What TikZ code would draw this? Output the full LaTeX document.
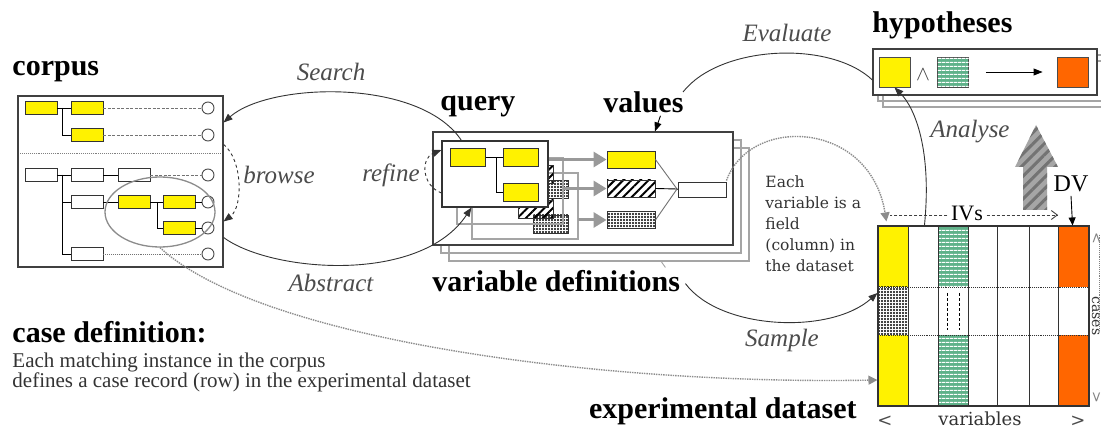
\documentclass[tikz,border=0pt]{standalone}
\usepackage{fontspec}
\setmainfont{Liberation Serif}
\newfontfamily\wideserif{DejaVu Serif}
\usetikzlibrary{arrows.meta,patterns,patterns.meta,calc,shapes.geometric}

\definecolor{dvorange}{RGB}{255,102,0}
\definecolor{ivgreen}{RGB}{96,178,138}
\definecolor{shadowgray}{RGB}{165,165,165}

\tikzset{
  title/.style={font=\fontsize{30}{30}\selectfont\bfseries, inner sep=0pt},
  act/.style={font=\fontsize{25}{25}\selectfont\itshape, text=black!70, inner sep=0pt},
  note/.style={font=\wideserif\fontsize{15.5}{21}\selectfont, text=black!80, align=left, inner sep=0pt},
  cbox/.style={draw=black!80, minimum width=32pt, minimum height=13pt, inner sep=0pt},
  ybox/.style={cbox, fill=yellow},
  wbox/.style={cbox, fill=white},
  leaf/.style={circle, draw=black!70, fill=white, minimum size=12pt, inner sep=0pt},
  leader/.style={black!55, dash pattern=on 3pt off 1.5pt},
  qcell/.style={draw=black!80, minimum width=35pt, minimum height=18pt, inner sep=0pt},
  vcell/.style={draw=black!80, minimum width=48pt, minimum height=17pt, inner sep=0pt},
  hcell/.style={draw=black!70, minimum width=31pt, minimum height=30pt, inner sep=0pt},
  hatch/.style={fill=white, pattern={Lines[angle=45,distance=6pt,line width=2pt]}, pattern color=black},
  speck/.style={fill=white, pattern={Dots[distance=3pt,radius=1.15pt]}, pattern color=black},
  stripe/.style={fill=ivgreen, postaction={pattern={Lines[angle=0,distance=4pt,line width=1.3pt]}, pattern color=white}},
  shade/.style={shadowgray, line width=1.2pt},
  arc/.style={black!80},
  tip/.style={-{Triangle[length=9pt,width=7pt]}},
  garrow/.style={black!40, line width=3pt, -{Triangle[length=13pt,width=15pt]}},
  gdots/.style={black!45, line width=1.4pt, densely dotted},
  edge/.style={font=\wideserif\fontsize{14}{14}\selectfont, rotate=-90, anchor=base, inner sep=0pt, text height=7pt, text depth=0pt},
}

\begin{document}
\begin{tikzpicture}[x=1pt,y=-1pt,line width=0.9pt]
\useasboundingbox[fill=white] (0,0) rectangle (1101,430);

% ---- corpus
\node[title, anchor=base west] (corpus) at (12,76) {corpus};
\node[draw=black!75, line width=1.1pt, minimum width=205pt, minimum height=171pt, inner sep=0pt] (cbx) at (120.5,181.5) {};
\node[ybox] (a1) at (41,108) {};
\node[ybox] (b1) at (87,108) {};
\node[ybox] (b2) at (87,135) {};
\node[wbox] (a3) at (41,175) {};
\node[wbox] (b3) at (87,175) {};
\node[wbox] (c3) at (134,175) {};
\node[wbox] (b4) at (87,202) {};
\node[ybox] (c4) at (134,202) {};
\node[ybox] (d4) at (179,202) {};
\node[ybox] (d5) at (179,228) {};
\node[wbox] (b6) at (87,254) {};
\foreach \r/\y in {1/108,2/135,3/175,4/202,5/228,6/254}
  \node[leaf] (o\r) at (208,\y) {};
\draw (a1) -- (b1);
\draw ([xshift=5pt]a1.east) |- (b2);
\draw (a3) -- (b3) -- (c3);
\draw ([xshift=5pt]a3.east) |- (b4);
\draw ([xshift=5pt]a3.east) |- (b6);
\draw (b4) -- (c4) -- (d4);
\draw ([xshift=7pt]c4.east) |- (d5);
\draw[leader] (b1) -- (o1);
\draw[leader] (b2) -- (o2);
\draw[leader] (c3) -- (o3);
\draw (d4) -- (o4);
\draw (d5) -- (o5);
\draw[leader, densely dotted] (b6) -- (o6);
\draw[black!50, densely dotted] ($(cbx.west)+(3,-28)$) -- ($(cbx.east)+(-3,-28)$);
\node[draw=black!45, line width=1.3pt, ellipse, minimum width=110pt, minimum height=70pt, inner sep=0pt] (inst) at (160,212) {};

% ---- variable definitions (stacked)
\draw[shade] (449,148) rectangle (749,261);
\draw[shade] (441,140) rectangle (741,253);
\node[draw=black!75, line width=1.2pt, fill=white, minimum width=300pt, minimum height=113pt, inner sep=0pt] (vdef) at (583,188.5) {};
\node[title, anchor=base west] (vdlbl) at (432,292) {variable definitions};
\draw[shadowgray] ($(vdlbl.north east)+(-20,-10)$) -- ($(vdlbl.north east)+(-15,-3)$);

% ---- query instances
\draw[shade] (472,173) rectangle (578,239);
\node[qcell, speck] at (498,189.5) {};
\node[qcell, speck] at (551,189.5) {};
\node[qcell, speck] at (551,224) {};
\draw[shade] (457,158) rectangle (563,224);
\node[qcell, hatch] at (483,174.5) {};
\node[qcell, hatch] at (536,174.5) {};
\node[qcell, hatch] at (536,209) {};
\node[draw=black!80, line width=1.2pt, fill=white, minimum width=106pt, minimum height=66pt, inner sep=0pt] (q1) at (495,174) {};
\node[qcell, fill=yellow] (k1) at (468,157.5) {};
\node[qcell, fill=yellow] (k2) at (521,157.5) {};
\node[qcell, fill=yellow] (k3) at (521,192) {};
\draw (k1) -- (k2);
\draw ([xshift=10pt]k1.east) |- (k3);
\node[title, anchor=base west] (query) at (440,111) {query};

% ---- values
\node[vcell, fill=yellow] (val1) at (631,159.5) {};
\node[vcell, hatch] (val2) at (631,188.5) {};
\node[vcell, speck] (val3) at (631,220) {};
\node[draw=black!80, fill=white, minimum width=48pt, minimum height=15pt, inner sep=0pt] (var) at (702,189.5) {};
\coordinate (join) at (677,189);
\draw[black!55] (val1.east) -- (join);
\draw (val2.east) -- (join) -- (var.west);
\draw[black!55] (val3.east) -- (join);
\coordinate (q2 edge) at (563,188.5);
\coordinate (q3 edge) at (578,220);
\draw[garrow] (q1.east |- val1) -- (val1.west);
\draw[garrow] (q2 edge) -- (val2.west);
\draw[garrow] (q3 edge) -- (val3.west);
\node[title, anchor=base west] (values) at (603,113) {values};
\draw[tip] ($(values.south)+(17,2)$) -- (vdef.north -| 655,0);

% ---- search / browse / refine / abstract
\draw[arc, tip] ($(q1.north west)+(20,0)$) .. controls (420,78) and (270,82) .. ($(cbx.north east)+(0,27)$);
\draw[arc, dashed, tip] ($(cbx.north east)+(0,49)$) .. controls (243,160) and (243,207) .. ($(cbx.north east)+(0,126)$);
\draw[arc, tip] ($(cbx.north east)+(0,142)$) .. controls (270,272) and (420,285) .. ($(q1.south west)+(30,0)$);
\draw[arc, dashed, tip] ($(q1.west)+(0,19)$) .. controls (421,185) and (421,158) .. ($(q1.west)+(0,-24)$);
\node[act] (search) at (331,72) {Search};
\node[act] (browse) at (279,175) {browse};
\node[act] (refine) at (391,175) {refine};
\node[act] (abstract) at (331,283) {Abstract};

% ---- hypotheses
\draw[shade] (883,61) rectangle (1110,107);
\draw[shade] (878,55) rectangle (1105,101);
\node[draw=black!75, line width=1.2pt, fill=white, minimum width=224pt, minimum height=46pt, inner sep=0pt] (hyp) at (985,72) {};
\node[hcell, fill=yellow] (hx) at (894.5,72) {};
\node[font=\fontsize{20}{20}\selectfont, text=black!75, inner sep=0pt] (hand) at (923,75) {$\wedge$};
\node[hcell, stripe] (hg) at (953,72) {};
\node[hcell, fill=dvorange] (ho) at (1072.5,72) {};
\draw[tip] ($(hg.east)+(17,0)$) -- ($(ho.west)+(-14,0)$);
\node[title, anchor=base west] (hyps) at (872,33) {hypotheses};
\draw[arc] (683,92) .. controls (720,45) and (830,40) .. ($(hyp.west)+(0,8)$);
\node[act] (evaluate) at (787,33) {Evaluate};

% ---- experimental dataset
\fill[yellow] (878,226) rectangle (908,287);
\fill[yellow] (878,335) rectangle (908,406);
\path[speck] (878,287) rectangle (908,335);
\path[stripe] (938,226) rectangle (968,287);
\path[stripe] (938,335) rectangle (968,406);
\fill[dvorange] (1058,226) rectangle (1089,287);
\fill[dvorange] (1058,335) rectangle (1089,406);
\draw[densely dashed] (947,293) -- (947,330);
\draw[densely dashed] (959,293) -- (959,330);
\foreach \x in {908,938,968,997,1029,1058}
  \draw[black!80] (\x,226) -- (\x,406);
\foreach \y in {287,335}
  \draw[black!80, densely dotted] (878,\y) -- (1089,\y);
\node[draw=black!80, line width=1.1pt, minimum width=211pt, minimum height=180pt, inner sep=0pt] (data) at (983.5,316) {};
\node[title, anchor=base east] (dslbl) at (857,418) {experimental dataset};
\node[font=\wideserif\fontsize{18}{18}\selectfont, text=black!80] (vars) at (980,419) {variables};
\node[font=\wideserif\fontsize{18}{18}\selectfont, text=black!70] (vl) at (885,421) {<};
\node[font=\wideserif\fontsize{18}{18}\selectfont, text=black!70] (vr) at (1078,421) {>};
\node[edge, text=black!80] (cases) at (1092,316) {cases};
\node[edge, text=black!50] (cu) at (1092,238) {<};
\node[edge, text=black!50] (cd) at (1092,397) {>};
\draw[black!50, densely dotted] ($(cu.west)+(4,3)$) -- ($(cases.east)+(4,-6)$);

% IVs and DV
\node[font=\fontsize{22}{22}\selectfont] (ivs) at (967,213) {IVs};
\coordinate (iv left) at (890,215);
\coordinate (iv right) at (1058,215);
\draw[black!75, densely dashed] (ivs.west |- iv left) -- (iv left);
\draw[black!75, densely dashed, -{Straight Barb[length=6pt,width=9pt]}] (ivs.east |- iv right) -- (iv right);
\node[font=\fontsize{24}{24}\selectfont] (dv) at (1071,184) {DV};
\draw[-{Triangle[length=8pt,width=7pt]}] (dv.south) -- ($(data.north east)+(-17,0)$);
\path[fill=black!35, postaction={pattern={Lines[angle=45,distance=8pt,line width=3pt]}, pattern color=black!55}]
  (1023,210) -- (1023,167) -- (1015,167) -- (1036,125) -- (1058,167) -- (1047,167) -- (1047,210) -- cycle;

% ---- analyse / sample
\draw[arc, tip] ($(data.north west)+(47,0)$) .. controls (932,150) and (915,108) .. (hx.south);
\node[act] (analyse) at (970,132) {Analyse};
\draw[arc, tip] ($(vdlbl.east)+(5,2)$) .. controls (720,330) and (830,335) .. ($(data.west)+(0,-23)$);
\node[act] (sample) at (782,340) {Sample};

% ---- column and row mappings
\node[note, anchor=north west] (varnote) at (765,175) {Each\\variable is a\\field\\(column) in\\the dataset};
\draw[gdots, -{Triangle[length=9pt,width=9pt]}] ($(var.north east)+(0,-1)$) .. controls (750,115) and (870,120) .. ($(data.north west)+(9,-4)$);
\draw[gdots, -{Triangle[length=9pt,width=9pt]}] (inst.south) .. controls (260,340) and (600,385) .. ($(data.west)+(0,64)$);
\node[title, anchor=base west] (casedef) at (12,343) {case definition:};
\node[font=\fontsize{21}{17}\selectfont, text=black!80, align=left, anchor=base west, inner sep=0pt] (casenote) at (12,388)
  {Each matching instance in the corpus\\defines a case record (row) in the experimental dataset};
\end{tikzpicture}
\end{document}
